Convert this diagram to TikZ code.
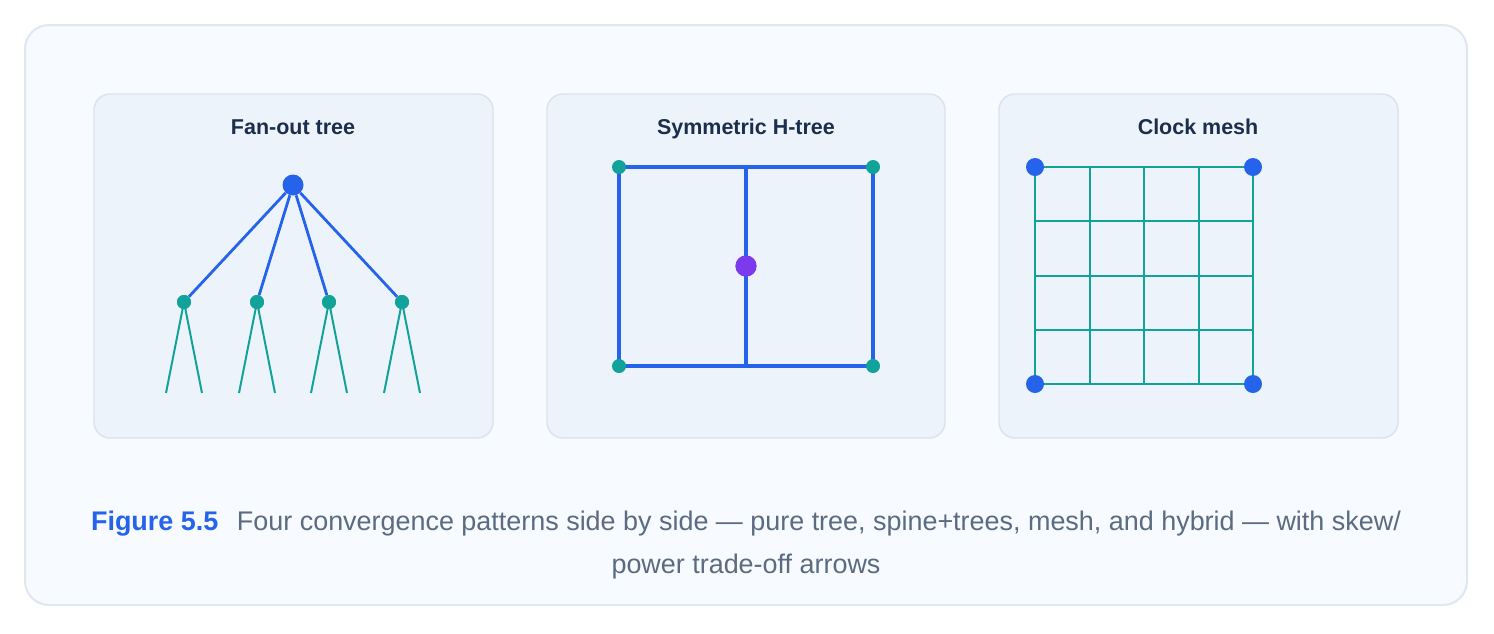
\documentclass[tikz,border=0pt]{standalone}
\usepackage{fontspec}
\setmainfont{Liberation Sans}
\usetikzlibrary{positioning}
\definecolor{wireblue}{HTML}{2563EB}
\definecolor{meshteal}{HTML}{11A299}
\definecolor{hubpurple}{HTML}{7C3AED}
\definecolor{titleink}{HTML}{1B2E4B}
\definecolor{capgray}{HTML}{5B6B80}
\definecolor{framefill}{HTML}{F7FAFE}
\definecolor{frameline}{HTML}{DFE7F2}
\definecolor{panelfill}{HTML}{EDF3FB}
\definecolor{panelline}{HTML}{DAE3EF}

\begin{document}
\begin{tikzpicture}[x=0.75pt,y=-0.75pt,
  panel/.style={fill=panelfill,draw=panelline,line width=1.1pt,rounded corners=12pt},
  title/.style={anchor=base,text=titleink,font=\fontsize{16.1}{20}\selectfont\bfseries},
  dot/.style={circle,inner sep=0pt,minimum size=#1},
  bluewire/.style={wireblue,line width=2.1pt},
  hwire/.style={wireblue,line width=2.5pt},
  tealwire/.style={meshteal,line width=1.5pt}]
\useasboundingbox (0,0) rectangle (1494,633);
% Frame
\draw[fill=framefill,draw=frameline,line width=1.5pt,rounded corners=18pt] (25,25) rectangle (1467,605);
% Panels
\draw[panel] (94,94) rectangle (493,438);
\draw[panel] (547,94) rectangle (945,438);
\draw[panel] (999,94) rectangle (1398,438);
\node[title] (t1) at (293,134) {Fan-out tree};
\node[title] (t2) at (746,134) {Symmetric H-tree};
\node[title] (t3) at (1198,134) {Clock mesh};

% Fan-out tree
\node[dot=15.75pt,fill=wireblue] (root) at (293,185) {};
\foreach \x [count=\i] in {184,257,329,402} {
  \node[dot=10.5pt,fill=meshteal] (c\i) at (\x,302) {};
  \draw[bluewire] (root) -- (c\i);
  \coordinate (l\i a) at (\x-18,393);
  \coordinate (l\i b) at (\x+18,393);
  \draw[tealwire] (c\i.center) -- (l\i a);
  \draw[tealwire] (c\i.center) -- (l\i b);
}
\foreach \i in {1,...,4}
  \node[dot=10.5pt,fill=meshteal] at (c\i) {};

% H-tree
\coordinate (htop) at (746,167);
\coordinate (hbot) at (746,366);
\draw[hwire] (619,167) -- (873,167) -- (873,366) -- (619,366) -- cycle;
\draw[hwire] (htop) -- (hbot);
\node[dot=10.5pt,fill=meshteal] (htl) at (619,167) {};
\node[dot=10.5pt,fill=meshteal] (htr) at (873,167) {};
\node[dot=10.5pt,fill=meshteal] (hbl) at (619,366) {};
\node[dot=10.5pt,fill=meshteal] (hbr) at (873,366) {};
\node[dot=16pt,fill=hubpurple] (hub) at (746,266) {};

% Clock mesh
\foreach \k in {0,...,4} {
  \draw[tealwire] ({1035+54.5*\k},167) -- ({1035+54.5*\k},384);
  \draw[tealwire] (1035,{167+54.25*\k}) -- (1253,{167+54.25*\k});
}
\node[dot=13.5pt,fill=wireblue] (mtl) at (1035,167) {};
\node[dot=13.5pt,fill=wireblue] (mtr) at (1253,167) {};
\node[dot=13.5pt,fill=wireblue] (mbl) at (1035,384) {};
\node[dot=13.5pt,fill=wireblue] (mbr) at (1253,384) {};

% Caption
\node[anchor=base,text=capgray,font=\fontsize{20.2}{24}\selectfont] (cap1) at (746,530)
  {\textcolor{wireblue}{\bfseries Figure 5.5}\hspace{14pt}Four convergence patterns side by side --- pure tree, spine+trees, mesh, and hybrid --- with skew/};
\node[anchor=base,text=capgray,font=\fontsize{20.2}{24}\selectfont] (cap2) at (746,573) {power trade-off arrows};
\end{tikzpicture}
\end{document}
